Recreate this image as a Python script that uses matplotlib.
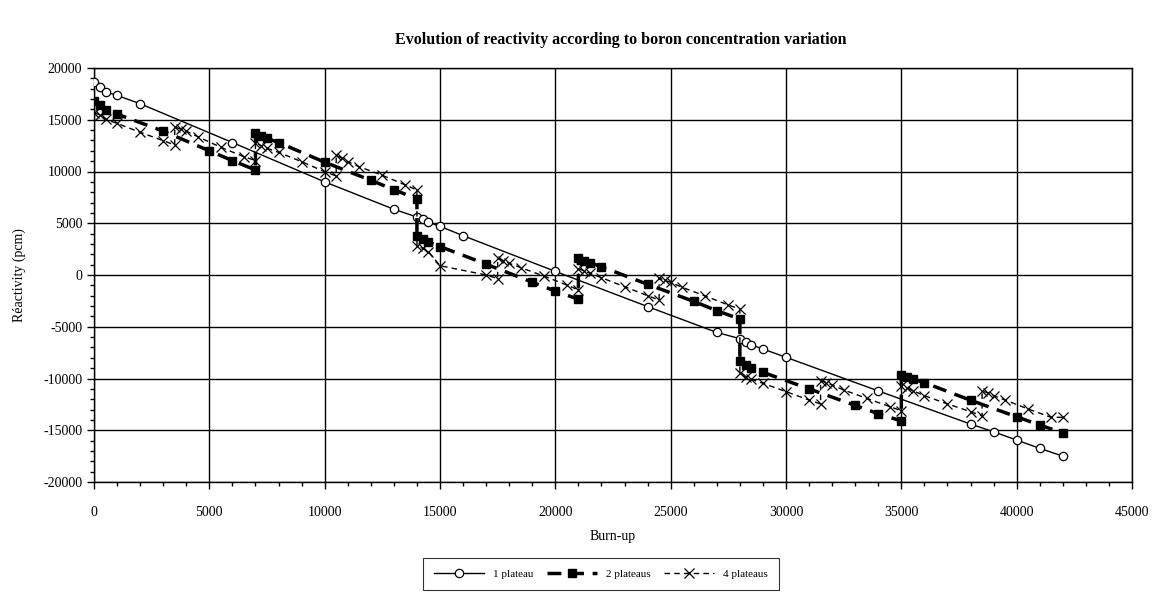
import matplotlib
matplotlib.use("Agg")
import matplotlib.pyplot as plt
from matplotlib.ticker import MultipleLocator

plt.rcParams['font.family'] = ['Liberation Serif', 'DejaVu Serif']
plt.rcParams['axes.unicode_minus'] = False

# 1 plateau
x1 = [0, 250, 500, 1000, 2000, 6000, 10000, 13000, 14000, 14250, 14500, 15000,
      16000, 20000, 24000, 27000, 28000, 28250, 28500, 29000, 30000, 34000,
      38000, 39000, 40000, 41000, 42000]
y1 = [18600, 18200, 17700, 17350, 16550, 12800, 9000, 6350, 5600, 5400, 5100,
      4700, 3800, 350, -3050, -5550, -6150, -6450, -6750, -7150, -7950, -11200,
      -14400, -15150, -15950, -16750, -17500]

# 2 plateaus
x2 = [0, 250, 500, 1000, 3000, 5000, 6000, 7000,
      7000, 7250, 7500, 8000, 10000, 12000, 13000, 14000,
      14000, 14250, 14500, 15000, 17000, 19000, 20000, 21000,
      21000, 21250, 21500, 22000, 24000, 26000, 27000, 28000,
      28000, 28250, 28500, 29000, 31000, 33000, 34000, 35000,
      35000, 35250, 35500, 36000, 38000, 40000, 41000, 42000]
y2 = [16800, 16400, 15950, 15550, 13900, 12000, 11050, 10150,
      13700, 13450, 13200, 12800, 10900, 9150, 8250, 7350,
      3750, 3500, 3200, 2750, 1050, -700, -1550, -2350,
      1600, 1400, 1200, 800, -900, -2550, -3450, -4250,
      -8350, -8700, -9000, -9400, -11000, -12600, -13400, -14100,
      -9650, -9850, -10050, -10400, -12100, -13700, -14500, -15250]

# 4 plateaus
x4 = [0, 250, 500, 1000, 2000, 3000, 3500,
      3500, 3750, 4000, 4500, 5500, 6500, 7000,
      7000, 7250, 7500, 8000, 9000, 10000, 10500,
      10500, 10750, 11000, 11500, 12500, 13500, 14000,
      14000, 14250, 14500, 15000, 17000, 17500,
      17500, 17750, 18000, 18500, 19500, 20500, 21000,
      21000, 21250, 21500, 22000, 23000, 24000, 24500,
      24500, 24750, 25000, 25500, 26500, 27500, 28000,
      28000, 28250, 28500, 29000, 30000, 31000, 31500,
      31500, 31750, 32000, 32500, 33500, 34500, 35000,
      35000, 35250, 35500, 36000, 37000, 38000, 38500,
      38500, 38750, 39000, 39500, 40500, 41500, 42000]
y4 = [15700, 15460, 15040, 14650, 13790, 12980, 12560,
      14300, 14100, 13900, 13360, 12340, 11430, 11060,
      12800, 12500, 12240, 11850, 10950, 9980, 9570,
      11550, 11300, 10950, 10460, 9630, 8700, 8210,
      2800, 2580, 2250, 900, 0, -350,
      1600, 1400, 1130, 710, -100, -970, -1450,
      600, 380, 160, -260, -1130, -2000, -2420,
      -300, -520, -710, -1190, -2030, -2900, -3290,
      -9500, -9820, -10080, -10460, -11270, -12080, -12460,
      -10200, -10400, -10630, -11110, -11920, -12720, -13110,
      -10750, -10950, -11180, -11660, -12460, -13200, -13620,
      -11200, -11400, -11660, -12080, -12950, -13750, -13750]

fig = plt.figure(figsize=(11.59, 5.94), dpi=100)
ax = fig.add_axes([94 / 1159, 1 - 482 / 594, (1132 - 94) / 1159, (482 - 68) / 594])

ax.plot(x1, y1, color='black', lw=1, marker='o', ms=6, mfc='white', mec='black',
        mew=0.9, label='1 plateau', zorder=3)
ax.plot(x2, y2, color='black', lw=2.5, ls=(0, (4, 2.5)), marker='s', ms=6,
        mfc='black', mec='black', label='2 plateaus', zorder=4)
ax.plot(x4, y4, color='black', lw=1, ls=(0, (4, 3)), marker='x', ms=7,
        mew=0.9, label='4 plateaus', zorder=5)

ax.set_xlim(0, 45000)
ax.set_ylim(-20000, 20000)
ax.xaxis.set_major_locator(MultipleLocator(5000))
ax.xaxis.set_minor_locator(MultipleLocator(1000))
ax.yaxis.set_major_locator(MultipleLocator(5000))
ax.yaxis.set_minor_locator(MultipleLocator(1000))
ax.tick_params(which='major', direction='out', length=5, width=1, labelsize=10)
ax.tick_params(which='minor', direction='out', length=3, width=1)
ax.tick_params(axis='x', pad=12)
ax.grid(True, which='major', color='black', lw=1)
for s in ax.spines.values():
    s.set_color('black')
    s.set_linewidth(1)

ax.set_xlabel('Burn-up', fontsize=10, labelpad=8)
ax.set_ylabel('Réactivity (pcm)', fontsize=10, labelpad=12)

fig.text(621 / 1159, 1 - 40 / 594, 'Evolution of reactivity according to boron concentration variation',
         ha='center', va='center', fontsize=11.5, fontweight='bold')

leg = ax.legend(loc='center', bbox_to_anchor=(601 / 1159, 1 - 574 / 594),
                bbox_transform=fig.transFigure, ncol=3, frameon=True, fancybox=False,
                edgecolor='black', fontsize=8, handlelength=4.5, columnspacing=1.2,
                borderpad=1.0)
leg.get_frame().set_linewidth(0.8)

fig.savefig('out.png', dpi=100)
